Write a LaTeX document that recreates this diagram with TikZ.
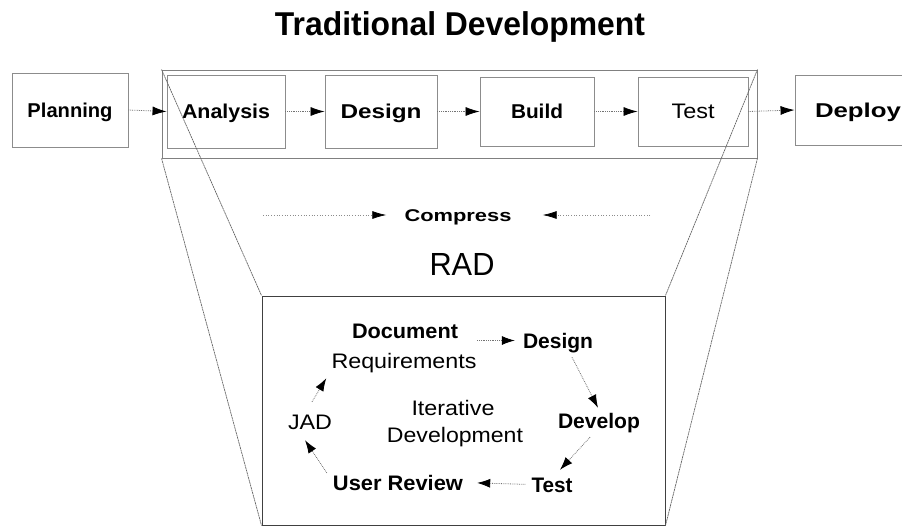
\documentclass[tikz,border=0pt]{standalone}
\usepackage{fontspec}
\setmainfont{Liberation Sans}
\usetikzlibrary{arrows.meta}
% stretch a label horizontally to a given width, keeping its height
\newcommand\stretchw[2]{\resizebox{#1}{\height}{#2}}

\begin{document}
\begin{tikzpicture}[x=1pt,y=1pt,
  stagebox/.style={draw=black!45, line width=0.9pt, inner sep=0pt,
    text height=14pt, text depth=0pt, font=\fontsize{20}{20}\selectfont\bfseries},
  frame/.style={draw=black!50, line width=0.9pt, inner sep=0pt},
  radframe/.style={draw=black!75, line width=1pt, inner sep=0pt},
  funnel/.style={draw=black!60, line width=0.7pt, dash pattern=on 2pt off 0.6pt},
  flow/.style={draw=black!55, line width=0.8pt, densely dotted,
    -{Latex[length=14pt,width=9pt,color=black]}},
  cflow/.style={draw=black!45, line width=0.7pt, dotted,
    -{Latex[length=14pt,width=8pt,color=black]}},
  cyc/.style={draw=black!55, line width=0.8pt, densely dotted,
    -{Latex[length=13pt,width=9pt,color=black]}},
  lbl/.style={anchor=base, inner sep=0pt, text height=15pt, text depth=0pt,
    font=\fontsize{21}{21}\selectfont},
  lblb/.style={lbl, font=\fontsize{21}{21}\selectfont\bfseries},
  title/.style={anchor=base, inner sep=0pt, font=\fontsize{33}{33}\selectfont\bfseries}
]
\useasboundingbox (0,0) rectangle (902,-528);
\clip (0,0) rectangle (902,-528);

% heading
\node[title] (ttl) at (460,-35) {\stretchw{370pt}{Traditional Development}};

% traditional stages
\node[frame, minimum width=595pt, minimum height=88pt] (trad) at (459.5,-114) {};
\node[stagebox, minimum width=116pt, minimum height=74pt] (plan) at (70,-110) {\stretchw{85pt}{Planning}};
\node[stagebox, minimum width=118pt, minimum height=73pt] (ana) at (226,-111.5) {\stretchw{88pt}{Analysis}};
\node[stagebox, minimum width=112pt, minimum height=73pt] (des) at (381,-111.5) {\stretchw{81pt}{Design}};
\node[stagebox, minimum width=114pt, minimum height=69pt] (bld) at (537,-111.5) {\stretchw{52pt}{Build}};
\node[stagebox, minimum width=110pt, minimum height=69pt, font=\fontsize{21}{21}\selectfont] (tst) at (693,-111.5) {\stretchw{43pt}{Test}};
\node[stagebox, minimum width=126pt, minimum height=70pt] (dep) at (858,-110) {\stretchw{86pt}{Deploy}};

\draw[flow] (plan.east) -- (ana.west);
\draw[flow] (ana.east) -- (des.west);
\draw[flow] (des.east) -- (bld.west);
\draw[flow] (bld.east) -- (tst.west);
\draw[flow] (tst.east) -- (dep.west);

% compression into RAD
\node[anchor=base, inner sep=0pt, text height=12pt, text depth=0pt,
      font=\fontsize{17}{17}\selectfont\bfseries] (cmp) at (458,-221) {\stretchw{107pt}{Compress}};
\coordinate (cmpL) at (263,-215);
\coordinate (cmpR) at (650,-215);
\draw[cflow, shorten >=18pt] (cmpL) -- (cmp.west);
\draw[cflow, shorten >=31pt] (cmpR) -- (cmp.east);

\node[anchor=base, inner sep=0pt, font=\fontsize{32}{32}\selectfont] (rad) at (462,-275) {\stretchw{65pt}{RAD}};

\node[radframe, minimum width=403pt, minimum height=229pt] (radbox) at (463.5,-410.5) {};

\draw[funnel] (trad.north west) -- (radbox.north west);
\draw[funnel] (trad.south west) -- (radbox.south west);
\draw[funnel] (trad.north east) -- (radbox.north east);
\draw[funnel] (trad.south east) -- (radbox.south east);

% iterative cycle
\node[lblb] (doc) at (405,-338) {\stretchw{106pt}{Document}};
\node[lbl] (req) at (404,-368) {\stretchw{145pt}{Requirements}};
\node[lblb] (cdes) at (558,-348) {\stretchw{70pt}{Design}};
\node[lbl] (itr) at (453,-415) {\stretchw{83pt}{Iterative}};
\node[lbl] (itd) at (455,-442) {\stretchw{136pt}{Development}};
\node[lbl] (jad) at (310,-429) {\stretchw{44pt}{JAD}};
\node[lblb] (cdev) at (599,-428) {\stretchw{82pt}{Develop}};
\node[lblb] (urev) at (398,-490) {\stretchw{130pt}{User Review}};
\node[lblb] (ctst) at (552,-492) {\stretchw{41pt}{Test}};

\draw[cyc, shorten <=19pt, shorten >=8pt] (doc.east |- cdes.west) -- (cdes.west);
\draw[cyc] ([xshift=14pt,yshift=-9pt]cdes.south) -- ([xshift=-1pt,yshift=5pt]cdev.north);
\draw[cyc] ([xshift=-9pt,yshift=-9pt]cdev.south) -- ([xshift=8pt,yshift=7pt]ctst.north);
\draw[cyc, shorten <=6pt, shorten >=14pt] (ctst.west) -- (urev.east);
\draw[cyc] ([xshift=-6pt,yshift=2pt]urev.north west) -- ([xshift=-5pt,yshift=-11pt]jad.south);
\draw[cyc] ([xshift=2pt,yshift=12pt]jad.north) -- ([xshift=-5pt,yshift=-10pt]req.south west);
\end{tikzpicture}
\end{document}
